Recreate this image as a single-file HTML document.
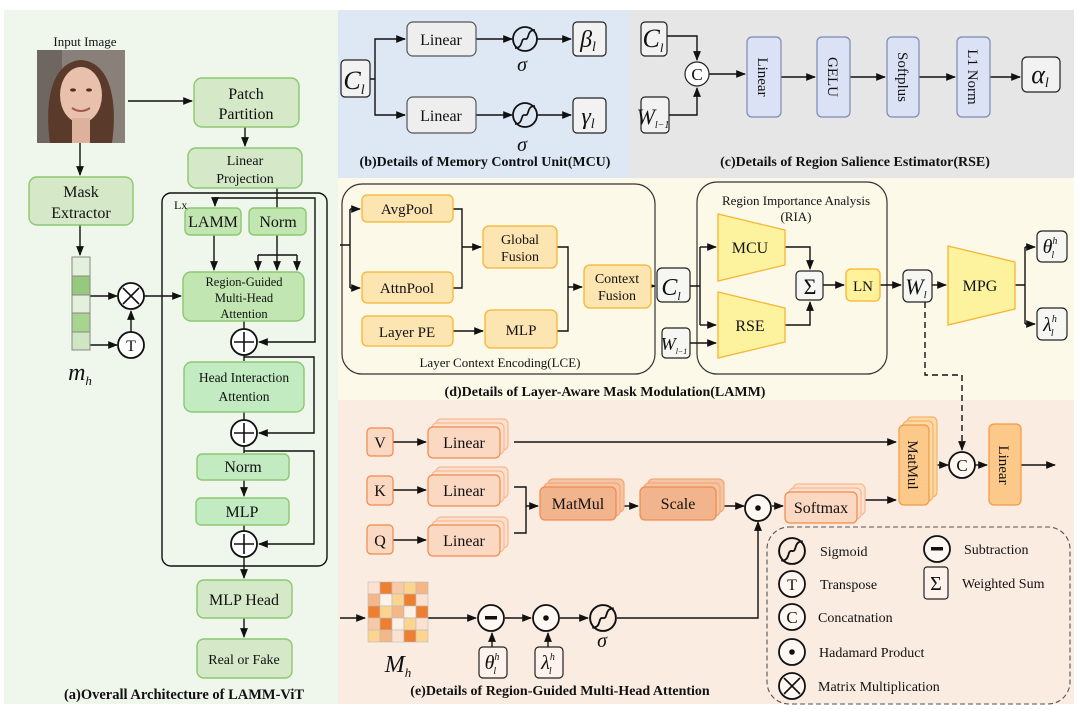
<!DOCTYPE html>
<html><head><meta charset="utf-8"><style>
body{margin:0;background:#fff}
svg{display:block;font-family:"Liberation Serif",serif}
</style></head><body>
<svg width="1080" height="723" viewBox="0 0 1080 723" xmlns="http://www.w3.org/2000/svg">
<defs>
<marker id="a" viewBox="0 0 10 10" refX="9" refY="5" markerWidth="7" markerHeight="7" orient="auto"><path d="M0,1 L10,5 L0,9 z" fill="#111"/></marker>
<symbol id="sig" viewBox="-13 -13 26 26"><circle r="12" fill="none" stroke="#111" stroke-width="1.8"/><path d="M-10,9 C-1,9 -5,-1 0,0 C5,1 1,-9 10,-9" fill="none" stroke="#111" stroke-width="1.7"/></symbol>
</defs>
<g fill="none" stroke="#111" stroke-width="1.4">
<rect x="4" y="10" width="334" height="694" fill="#eff6ec" stroke="none"/>
<rect x="338" y="10" width="292" height="168" fill="#dde8f4" stroke="none"/>
<rect x="630" y="10" width="444" height="168" fill="#e6e6e6" stroke="none"/>
<rect x="338" y="178" width="736" height="222" fill="#fdf9e9" stroke="none"/>
<rect x="338" y="400" width="736" height="304" fill="#fbece2" stroke="none"/>
</g>

<!-- ===== Panel a ===== -->
<g font-size="16" text-anchor="middle" fill="#111">
<text x="85" y="46" font-size="13">Input  Image</text>
</g>
<g>
<rect x="37" y="50" width="88" height="93" fill="#8a807a"/>
<rect x="37" y="50" width="25" height="93" fill="#6e6660"/>
<path d="M50,143 C44,100 52,62 81,60 C110,62 118,100 112,143 z" fill="#5a3a2a"/>
<ellipse cx="81" cy="95" rx="21" ry="28" fill="#e8c0ac"/>
<rect x="72" y="118" width="18" height="25" fill="#ddb29c"/>
<ellipse cx="73" cy="90" rx="3" ry="1.6" fill="#4a3020"/><ellipse cx="89" cy="90" rx="3" ry="1.6" fill="#4a3020"/>
<path d="M72,108 Q81,114 90,108" stroke="#a05a55" stroke-width="2" fill="none"/>
</g>
<g fill="none" stroke="#111" stroke-width="1.4">
<path d="M128,101 H192" marker-end="url(#a)"/>
<path d="M245,127 V146" marker-end="url(#a)"/>
<path d="M80,143 V175" marker-end="url(#a)"/>
<path d="M80,225 V255" marker-end="url(#a)"/>
<path d="M90,296 H117" marker-end="url(#a)"/>
<path d="M90,345 H117" marker-end="url(#a)"/>
<path d="M131,332 V311" marker-end="url(#a)"/>
<path d="M144,296 H181" marker-end="url(#a)"/>
<rect x="162" y="193" width="165" height="373" rx="9"/>
<path d="M277,188 V208"/>
<path d="M215,198 H315 V342 H259" marker-end="url(#a)"/>
<path d="M215,198 V206" marker-end="url(#a)"/>
<path d="M214,235 V270" marker-end="url(#a)"/>
<path d="M277,235 V270" marker-end="url(#a)"/>
<path d="M258,255 H297"/>
<path d="M258,255 V270" marker-end="url(#a)"/>
<path d="M297,255 V270" marker-end="url(#a)"/>
<path d="M244,321 V329"/>
<path d="M244,355 V361"/>
<path d="M244,357 H314 V433 H259" marker-end="url(#a)"/>
<path d="M244,412 V420"/>
<path d="M244,446 V453"/>
<path d="M244,451 H314 V544 H259" marker-end="url(#a)"/>
<path d="M244,480 V496" marker-end="url(#a)"/>
<path d="M244,525 V531"/>
<path d="M244,557 V578" marker-end="url(#a)"/>
<path d="M244,618 V637" marker-end="url(#a)"/>
</g>
<g stroke="#8cc870" stroke-width="1.4">
<rect x="194" y="78" width="105" height="49" rx="8" fill="#d5e8c7"/>
<rect x="188" y="148" width="114" height="40" rx="8" fill="#d5e8c7"/>
<rect x="29" y="177" width="104" height="48" rx="8" fill="#d5e8c7"/>
<rect x="185" y="208" width="56" height="27" rx="5" fill="#c2e6b2"/>
<rect x="249" y="208" width="57" height="27" rx="5" fill="#c2e6b2"/>
<rect x="183" y="272" width="121" height="49" rx="8" fill="#c2e6b2"/>
<rect x="184" y="362" width="120" height="50" rx="8" fill="#c2ebc2"/>
<rect x="197" y="454" width="92" height="26" rx="5" fill="#c2ebc2"/>
<rect x="196" y="498" width="93" height="27" rx="5" fill="#c2ebc2"/>
<rect x="197" y="580" width="95" height="38" rx="7" fill="#d5e8c7"/>
<rect x="197" y="639" width="95" height="39" rx="7" fill="#d5e8c7"/>
</g>
<g stroke="#888" stroke-width="1">
<rect x="72" y="257" width="18" height="19" fill="#e3f0dc"/>
<rect x="72" y="276" width="18" height="19" fill="#96c87e"/>
<rect x="72" y="295" width="18" height="18" fill="#e3f0dc"/>
<rect x="72" y="313" width="18" height="19" fill="#a8d490"/>
<rect x="72" y="332" width="18" height="18" fill="#cfe6c3"/>
</g>
<g fill="#fff" stroke="#111" stroke-width="1.8">
<circle cx="131" cy="296" r="13"/><circle cx="131" cy="345" r="13"/>
<circle cx="244" cy="342" r="13"/><circle cx="244" cy="433" r="13"/><circle cx="244" cy="544" r="13"/>
</g>
<g stroke="#111" stroke-width="1.6">
<path d="M123,288 L139,304 M139,288 L123,304"/>
<path d="M234,342 H254 M244,332 V352 M234,433 H254 M244,423 V443 M234,544 H254 M244,534 V554"/>
</g>
<g font-size="16" text-anchor="middle" fill="#111">
<text x="131" y="351">T</text>
<text x="246" y="99">Patch</text><text x="246" y="119">Partition</text>
<text x="245" y="165" font-size="14">Linear</text><text x="245" y="183" font-size="14">Projection</text>
<text x="81" y="197">Mask</text><text x="81" y="218">Extractor</text>
<text x="174" y="209" font-size="12" text-anchor="start">Lx</text>
<text x="213" y="227">LAMM</text><text x="278" y="227">Norm</text>
<text x="244" y="286" font-size="12.5">Region-Guided</text><text x="244" y="302" font-size="12.5">Multi-Head</text><text x="244" y="318" font-size="12.5">Attention</text>
<text x="244" y="382" font-size="13.5">Head Interaction</text><text x="244" y="401" font-size="13.5">Attention</text>
<text x="243" y="472">Norm</text><text x="242" y="517">MLP</text>
<text x="244" y="605">MLP Head</text><text x="244" y="664" font-size="14">Real or Fake</text>
<text x="80" y="380" font-size="24" font-style="italic">m<tspan font-size="13" dy="5">h</tspan></text>
<text x="184" y="699" font-size="14.5" font-weight="bold">(a)Overall Architecture of LAMM-ViT</text>
</g>

<!-- ===== Panel b ===== -->
<g fill="none" stroke="#111" stroke-width="1.4">
<path d="M370,79 H375 V39 H405 M375,79 V115 H405"/>
<path d="M398,39 H405" marker-end="url(#a)"/><path d="M398,115 H405" marker-end="url(#a)"/>
<path d="M476,39 H512" marker-end="url(#a)"/><path d="M476,115 H512" marker-end="url(#a)"/>
<path d="M537,39 H571" marker-end="url(#a)"/><path d="M537,115 H571" marker-end="url(#a)"/>
</g>
<g stroke="#555" stroke-width="1.2" fill="#eeeeee">
<rect x="407" y="22" width="69" height="34" rx="6"/><rect x="407" y="97" width="69" height="36" rx="6"/>
<rect x="341" y="60" width="29" height="37" rx="4" fill="#f2f2f2" stroke="#222"/>
<rect x="573" y="22" width="33" height="34" rx="4" fill="#f2f2f2" stroke="#222"/>
<rect x="573" y="98" width="33" height="35" rx="4" fill="#f2f2f2" stroke="#222"/>
</g>
<use href="#sig" x="512" y="26" width="26" height="26"/><use href="#sig" x="512" y="102" width="26" height="26"/>
<g font-size="16" text-anchor="middle" fill="#111">
<text x="441" y="45">Linear</text><text x="441" y="121">Linear</text>
<text x="522" y="71" font-size="20" font-style="italic">σ</text><text x="522" y="151" font-size="20" font-style="italic">σ</text>
<text x="354" y="89" font-size="26" font-style="italic">C<tspan font-size="14" dy="5">l</tspan></text>
<text x="588" y="47" font-size="24" font-style="italic">β<tspan font-size="14" dy="4">l</tspan></text>
<text x="588" y="124" font-size="24" font-style="italic">γ<tspan font-size="14" dy="4">l</tspan></text>
<text x="485" y="166" font-size="14" font-weight="bold">(b)Details of Memory Control Unit(MCU)</text>
</g>

<!-- ===== Panel c ===== -->
<g fill="none" stroke="#111" stroke-width="1.4">
<path d="M667,36 H697 V60" marker-end="url(#a)"/>
<path d="M669,115 H697 V88" marker-end="url(#a)"/>
<path d="M709,74 H745" marker-end="url(#a)"/>
<path d="M781,77 H815" marker-end="url(#a)"/>
<path d="M850,77 H885" marker-end="url(#a)"/>
<path d="M919,77 H955" marker-end="url(#a)"/>
<path d="M990,77 H1020" marker-end="url(#a)"/>
</g>
<g stroke="#7a8ab0" stroke-width="1.2" fill="#dce2f5">
<rect x="747" y="37" width="34" height="80" rx="5"/><rect x="817" y="37" width="33" height="80" rx="5"/>
<rect x="887" y="37" width="32" height="80" rx="5"/><rect x="957" y="37" width="33" height="80" rx="5"/>
</g>
<g stroke="#222" stroke-width="1.2" fill="#f2f2f2">
<rect x="641" y="22" width="26" height="34" rx="4"/><rect x="641" y="97" width="28" height="36" rx="4"/>
<rect x="1022" y="57" width="38" height="35" rx="5"/>
<circle cx="697" cy="74" r="12" fill="#fff"/>
</g>
<g font-size="16" text-anchor="middle" fill="#111">
<text x="697" y="80" font-size="17">C</text>
<text x="653" y="47" font-size="26" font-style="italic">C<tspan font-size="13" dy="5">l</tspan></text>
<text x="653" y="124" font-size="22" font-style="italic">W<tspan font-size="10" dy="4">l−1</tspan></text>
<text x="1040" y="83" font-size="26" font-style="italic">α<tspan font-size="14" dy="4">l</tspan></text>
<g font-size="15">
<text transform="translate(758,77) rotate(90)">Linear</text>
<text transform="translate(828,77) rotate(90)">GELU</text>
<text transform="translate(898,77) rotate(90)">Softplus</text>
<text transform="translate(968,77) rotate(90)">L1 Norm</text>
</g>
<text x="855" y="166" font-size="14" font-weight="bold">(c)Details of Region Salience Estimator(RSE)</text>
</g>

<!-- ===== Panel d ===== -->
<g fill="none" stroke="#333" stroke-width="1.2">
<rect x="342" y="184" width="313" height="190" rx="20"/>
<rect x="697" y="182" width="190" height="192" rx="20"/>
</g>
<g fill="none" stroke="#111" stroke-width="1.4">
<path d="M340,245 H350 M350,209 V288"/>
<path d="M350,209 H360" marker-end="url(#a)"/><path d="M350,288 H360" marker-end="url(#a)"/>
<path d="M453,209 H462 V288 H453 M462,247 H481" marker-end="url(#a)"/>
<path d="M453,331 H483" marker-end="url(#a)"/>
<path d="M557,247 H568 V331 H557 M568,287 H582" marker-end="url(#a)"/>
<path d="M651,286 H655" marker-end="url(#a)"/>
<path d="M690,286 H700 M700,247 V325"/>
<path d="M700,247 H716" marker-end="url(#a)"/><path d="M700,325 H716" marker-end="url(#a)"/>
<path d="M690,343 H716" marker-end="url(#a)"/>
<path d="M785,247 H810 V269" marker-end="url(#a)"/>
<path d="M785,325 H810 V302" marker-end="url(#a)"/>
<path d="M823,285 H844" marker-end="url(#a)"/>
<path d="M880,285 H901" marker-end="url(#a)"/>
<path d="M932,285 H946" marker-end="url(#a)"/>
<path d="M1015,285 H1025 M1025,247 V324"/>
<path d="M1025,247 H1035" marker-end="url(#a)"/><path d="M1025,324 H1035" marker-end="url(#a)"/>
<path d="M925,302 V375 H962 V450" stroke-dasharray="6,4" marker-end="url(#a)"/>
</g>
<g stroke="#f5b530" stroke-width="1.3" fill="#fde5b2">
<rect x="362" y="195" width="91" height="27" rx="5"/>
<rect x="362" y="272" width="91" height="31" rx="5"/>
<rect x="483" y="226" width="74" height="42" rx="6"/>
<rect x="362" y="316" width="91" height="30" rx="5"/>
<rect x="485" y="310" width="72" height="38" rx="6"/>
<rect x="584" y="265" width="67" height="43" rx="6"/>
<path d="M718,214 L785,230 L785,265 L718,281 z" fill="#fdf39e"/>
<path d="M718,292 L785,308 L785,342 L718,358 z" fill="#fdf39e"/>
<path d="M948,246 L1015,262 L1015,309 L948,325 z" fill="#fdf39e"/>
<rect x="846" y="269" width="34" height="32" rx="5" fill="#fff29a"/>
</g>
<g stroke="#222" stroke-width="1.2" fill="#f6f6f2">
<rect x="657" y="268" width="33" height="34" rx="5"/>
<rect x="662" y="328" width="28" height="30" rx="4"/>
<rect x="796" y="271" width="27" height="29" rx="4"/>
<rect x="903" y="270" width="29" height="32" rx="5"/>
<rect x="1037" y="231" width="30" height="31" rx="5"/>
<rect x="1037" y="308" width="30" height="32" rx="5"/>
</g>
<g font-size="15" text-anchor="middle" fill="#111">
<text x="407" y="214">AvgPool</text><text x="407" y="293">AttnPool</text><text x="407" y="337">Layer PE</text>
<text x="520" y="244" font-size="14">Global</text><text x="520" y="261" font-size="14">Fusion</text>
<text x="521" y="335">MLP</text>
<text x="617" y="283" font-size="14">Context</text><text x="617" y="300" font-size="14">Fusion</text>
<text x="500" y="367" font-size="13">Layer Context Encoding(LCE)</text>
<text x="796" y="205" font-size="13">Region Importance Analysis</text><text x="796" y="221" font-size="13">(RIA)</text>
<text x="750" y="253" font-size="16">MCU</text><text x="750" y="331" font-size="16">RSE</text>
<text x="980" y="291" font-size="16">MPG</text>
<text x="863" y="291">LN</text>
<text x="810" y="294" font-size="22">Σ</text>
<text x="671" y="295" font-size="24" font-style="italic">C<tspan font-size="12" dy="5">l</tspan></text>
<text x="674" y="350" font-size="18" font-style="italic">W<tspan font-size="8" dy="4">l−1</tspan></text>
<text x="916" y="294" font-size="22" font-style="italic">W<tspan font-size="11" dy="4">l</tspan></text>
<text x="1050" y="253" font-size="20" font-style="italic">θ<tspan font-size="10" dy="-9">h</tspan><tspan font-size="10" dx="-6" dy="14">l</tspan></text>
<text x="1050" y="331" font-size="20" font-style="italic">λ<tspan font-size="10" dy="-9">h</tspan><tspan font-size="10" dx="-6" dy="14">l</tspan></text>
<text x="605" y="396" font-size="14" font-weight="bold">(d)Details of Layer-Aware Mask Modulation(LAMM)</text>
</g>

<!-- ===== Panel e ===== -->
<g fill="none" stroke="#111" stroke-width="1.4">
<path d="M393,442 H426" marker-end="url(#a)"/>
<path d="M393,490 H426" marker-end="url(#a)"/>
<path d="M393,540 H426" marker-end="url(#a)"/>
<path d="M514,442 H896" marker-end="url(#a)"/>
<path d="M514,487 H526 V533 H514 M526,506 H538" marker-end="url(#a)"/>
<path d="M624,506 H638" marker-end="url(#a)"/>
<path d="M723,506 H744" marker-end="url(#a)"/>
<path d="M772,506 H783" marker-end="url(#a)"/>
<path d="M865,500 H896" marker-end="url(#a)"/>
<path d="M937,465 H948" marker-end="url(#a)"/>
<path d="M975,465 H987" marker-end="url(#a)"/>
<path d="M1021,465 H1055" marker-end="url(#a)"/>
<path d="M340,618 H365" marker-end="url(#a)"/>
<path d="M427,618 H476" marker-end="url(#a)"/>
<path d="M505,618 H531" marker-end="url(#a)"/>
<path d="M560,618 H588" marker-end="url(#a)"/>
<path d="M617,618 H758 V522" marker-end="url(#a)"/>
<path d="M492,647 V633" marker-end="url(#a)"/>
<path d="M548,647 V633" marker-end="url(#a)"/>
<rect x="767" y="527" width="303" height="177" rx="22" stroke="#555" stroke-width="1.1" stroke-dasharray="5,3"/>
</g>
<g stroke="#f08a4b" stroke-width="1.2">
<g fill="#fde0cc" stroke="#f7b894"><rect x="436" y="419" width="72" height="31" rx="5"/><rect x="432" y="423" width="72" height="31" rx="5"/></g>
<rect x="428" y="427" width="72" height="31" rx="5" fill="#fbd8c2"/>
<g fill="#fde0cc" stroke="#f7b894"><rect x="436" y="467" width="72" height="31" rx="5"/><rect x="432" y="471" width="72" height="31" rx="5"/></g>
<rect x="428" y="475" width="72" height="31" rx="5" fill="#fbd8c2"/>
<g fill="#fde0cc" stroke="#f7b894"><rect x="436" y="517" width="72" height="31" rx="5"/><rect x="432" y="521" width="72" height="31" rx="5"/></g>
<rect x="428" y="525" width="72" height="31" rx="5" fill="#fbd8c2"/>
<rect x="367" y="428" width="26" height="28" rx="4" fill="#fbd8c2"/>
<rect x="367" y="476" width="26" height="29" rx="4" fill="#fbd8c2"/>
<rect x="367" y="525" width="26" height="29" rx="4" fill="#fbd8c2"/>
<g fill="#f5c4a3" stroke="#f3a878"><rect x="548" y="479" width="76" height="33" rx="5"/><rect x="544" y="483" width="76" height="33" rx="5"/><rect x="648" y="479" width="76" height="33" rx="5"/><rect x="644" y="483" width="76" height="33" rx="5"/></g>
<rect x="540" y="487" width="76" height="33" rx="5" fill="#f2b48d"/>
<rect x="640" y="487" width="76" height="33" rx="5" fill="#f2b48d"/>
<g fill="#fde0cc" stroke="#f7b894"><rect x="793" y="484" width="72" height="31" rx="5"/><rect x="789" y="488" width="72" height="31" rx="5"/></g>
<rect x="785" y="492" width="72" height="31" rx="5" fill="#fbd8c2"/>
<g fill="#fdd9a6" stroke="#f5b36a"><rect x="907" y="417" width="30" height="80" rx="5"/><rect x="903" y="421" width="30" height="80" rx="5"/></g>
<rect x="899" y="425" width="30" height="80" rx="5" fill="#fdc98a" stroke="#ef9a40"/>
<rect x="989" y="424" width="32" height="81" rx="5" fill="#fdc98a" stroke="#ef9a40"/>
</g>
<g stroke="#bbb" stroke-width="0.6">
<rect x="368" y="582" width="12" height="12" fill="#fbe1d0"/><rect x="380" y="582" width="12" height="12" fill="#ee7f30"/><rect x="392" y="582" width="12" height="12" fill="#f8c9a6"/><rect x="404" y="582" width="12" height="12" fill="#fbd590"/><rect x="416" y="582" width="12" height="12" fill="#f5b688"/>
<rect x="368" y="594" width="12" height="12" fill="#f5b688"/><rect x="380" y="594" width="12" height="12" fill="#fdf0e6"/><rect x="392" y="594" width="12" height="12" fill="#fbd590"/><rect x="404" y="594" width="12" height="12" fill="#ee7f30"/><rect x="416" y="594" width="12" height="12" fill="#fbe1d0"/>
<rect x="368" y="606" width="12" height="12" fill="#ee7f30"/><rect x="380" y="606" width="12" height="12" fill="#fbd590"/><rect x="392" y="606" width="12" height="12" fill="#f5b688"/><rect x="404" y="606" width="12" height="12" fill="#fdf0e6"/><rect x="416" y="606" width="12" height="12" fill="#ee7f30"/>
<rect x="368" y="618" width="12" height="12" fill="#f8c9a6"/><rect x="380" y="618" width="12" height="12" fill="#ee7f30"/><rect x="392" y="618" width="12" height="12" fill="#fdf0e6"/><rect x="404" y="618" width="12" height="12" fill="#fbd590"/><rect x="416" y="618" width="12" height="12" fill="#fbe1d0"/>
<rect x="368" y="630" width="12" height="12" fill="#fbd590"/><rect x="380" y="630" width="12" height="12" fill="#f5b688"/><rect x="392" y="630" width="12" height="12" fill="#fbe1d0"/><rect x="404" y="630" width="12" height="12" fill="#ee7f30"/><rect x="416" y="630" width="12" height="12" fill="#fbd590"/>
</g>
<g fill="#fff8f2" stroke="#111" stroke-width="1.8">
<circle cx="758" cy="508" r="13"/><circle cx="962" cy="465" r="13"/>
<circle cx="491" cy="618" r="13"/><circle cx="546" cy="618" r="13"/>
<circle cx="792" cy="584" r="13"/><circle cx="792" cy="617" r="13"/><circle cx="792" cy="652" r="13"/><circle cx="792" cy="686" r="13"/>
<circle cx="937" cy="549" r="13"/>
</g>
<use href="#sig" x="589" y="604" width="28" height="28"/>
<use href="#sig" x="778" y="537" width="28" height="28"/>
<g fill="#111">
<circle cx="758" cy="508" r="2.8"/><circle cx="546" cy="618" r="2.8"/><circle cx="792" cy="652" r="2.8"/>
<rect x="485" y="616" width="12" height="3.5"/><rect x="931" y="547" width="12" height="3.5"/>
</g>
<path d="M784,678 L800,694 M800,678 L784,694" stroke="#111" stroke-width="1.6"/>
<g stroke="#222" stroke-width="1.2" fill="#fdf3ec">
<rect x="479" y="647" width="28" height="31" rx="4"/><rect x="535" y="647" width="28" height="31" rx="4"/>
<rect x="924" y="567" width="24" height="32" rx="3"/>
</g>
<g font-size="16" text-anchor="middle" fill="#111">
<text x="380" y="448">V</text><text x="380" y="496">K</text><text x="380" y="546">Q</text>
<text x="464" y="448">Linear</text><text x="464" y="496">Linear</text><text x="464" y="546">Linear</text>
<text x="578" y="509">MatMul</text><text x="678" y="509">Scale</text><text x="821" y="513">Softmax</text>
<text transform="translate(908,465) rotate(90)" font-size="15">MatMul</text>
<text transform="translate(999,465) rotate(90)" font-size="15">Linear</text>
<text x="962" y="471" font-size="17">C</text>
<text x="602" y="647" font-size="20" font-style="italic">σ</text>
<text x="398" y="672" font-size="24" font-style="italic">M<tspan font-size="13" dy="5">h</tspan></text>
<text x="492" y="669" font-size="20" font-style="italic">θ<tspan font-size="10" dy="-9">h</tspan><tspan font-size="10" dx="-6" dy="14">l</tspan></text>
<text x="548" y="669" font-size="20" font-style="italic">λ<tspan font-size="10" dy="-9">h</tspan><tspan font-size="10" dx="-6" dy="14">l</tspan></text>
<text x="560" y="695" font-size="14" font-weight="bold">(e)Details of Region-Guided Multi-Head Attention</text>
<text x="792" y="590" font-size="16">T</text><text x="792" y="623" font-size="17">C</text>
<text x="936" y="590" font-size="20">Σ</text>
<g text-anchor="start" font-size="14">
<text x="820" y="556">Sigmoid</text><text x="820" y="589">Transpose</text><text x="818" y="622">Concatnation</text>
<text x="819" y="657">Hadamard Product</text><text x="818" y="691">Matrix Multiplication</text>
<text x="964" y="554">Subtraction</text><text x="962" y="588">Weighted Sum</text>
</g>
</g>
</svg>
</body></html>
